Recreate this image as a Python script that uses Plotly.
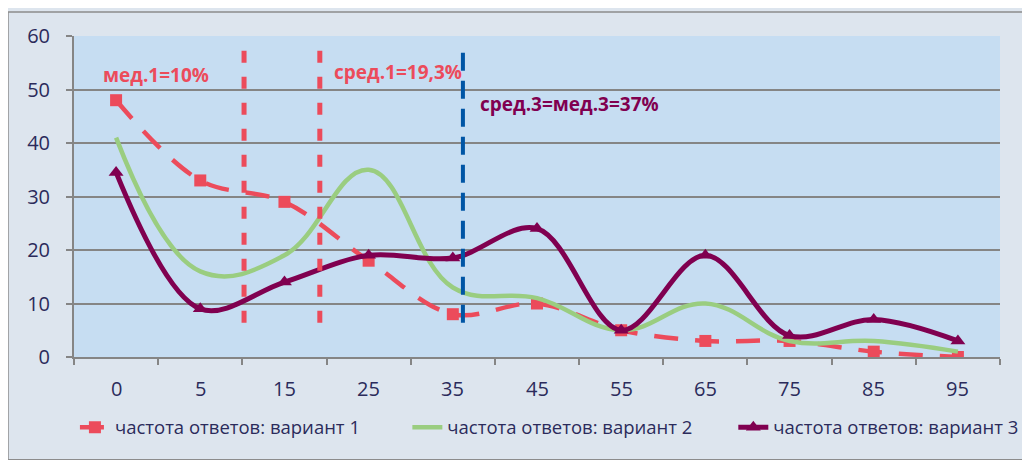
import plotly.graph_objects as go

# answer groups on the x axis (category axis)
categories = ["0", "5", "15", "25", "35", "45", "55", "65", "75", "85", "95"]

# frequency of answers, %
variant_1 = [48, 33, 29, 18, 8, 10, 5, 3, 3, 1, 0]
variant_2 = [41, 16, 19, 35, 13, 11, 5, 10, 3, 3, 1]
variant_3 = [34.5, 9, 14, 19, 18.5, 24, 5, 19, 4, 7, 3]

series_names = [
    "частота ответов: вариант 1",
    "частота ответов: вариант 2",
    "частота ответов: вариант 3",
]

# median / mean markers, given as positions on the category axis
stat_positions = [1.52, 2.42, 4.12]
stat_labels = ["мед.1=10%", "сред.1=19,3%", "сред.3=мед.3=37%"]

RED = "#EC4B5B"
GREEN = "#9ACD80"
PURPLE = "#800050"
BLUE = "#0055A5"
TEXT = "#2B2B5B"
GRID = "#858585"

fig = go.Figure()

fig.add_trace(go.Scatter(
    x=categories, y=variant_1, name=series_names[0],
    mode="lines+markers",
    line=dict(color=RED, width=4.5, dash="24px,17px", shape="spline", smoothing=1.0),
    marker=dict(symbol="square", size=12, color=RED),
    legend="legend",
))
fig.add_trace(go.Scatter(
    x=categories, y=variant_2, name=series_names[1],
    mode="lines",
    line=dict(color=GREEN, width=4.5, shape="spline", smoothing=1.15),
    legend="legend2",
))
fig.add_trace(go.Scatter(
    x=categories, y=variant_3, name=series_names[2],
    mode="lines+markers",
    line=dict(color=PURPLE, width=5, shape="spline", smoothing=1.0),
    marker=dict(symbol="triangle-up", size=13, color=PURPLE),
    legend="legend3",
))

# vertical dashed lines for the median / mean
line_styles = [
    dict(color=RED, width=5, dash="12px,14px"),
    dict(color=RED, width=5, dash="12px,14px"),
    dict(color=BLUE, width=4, dash="18px,10px"),
]
for xpos, style in zip(stat_positions, line_styles):
    fig.add_shape(type="line", xref="x", yref="y",
                  x0=xpos, x1=xpos, y0=6.4, y1=58.7, line=style, layer="above")

# labels for the lines
label_spots = [(-0.18, 52.7, RED), (2.56, 53.2, RED), (4.30, 47.3, PURPLE)]
for text, (ax, ay, col) in zip(stat_labels, label_spots):
    fig.add_annotation(x=ax, y=ay, xref="x", yref="y", text=f"<b>{text}</b>",
                       showarrow=False, xanchor="left", yanchor="middle",
                       font=dict(size=19, color=col, family="Open Sans"))

# x tick labels sit a bit lower than plotly puts them, so draw them as text
# (numeric category index: plotly would read "5" as position 5)
for i, cat in enumerate(categories):
    fig.add_annotation(x=i, y=0, xref="x", yref="y", text=cat,
                       showarrow=False, xanchor="center", yanchor="middle",
                       yshift=-31, font=dict(size=20, color=TEXT, family="Open Sans"))

# outer frame of the chart
fig.add_shape(type="rect", xref="paper", yref="paper",
              x0=-0.0713, x1=1.04, y0=-0.32, y1=1.0748,
              line=dict(color="#8C8C8C", width=1.5), fillcolor="rgba(0,0,0,0)",
              layer="below")

fig.update_xaxes(
    type="category",
    showgrid=False,
    showline=True, linecolor=GRID, linewidth=2,
    ticks="outside", tickson="boundaries", ticklen=6, tickcolor=GRID, tickwidth=1.5,
    showticklabels=False,
    range=[-0.5, 10.5],
    automargin=False,
)
fig.update_yaxes(
    range=[0, 60], dtick=10,
    showgrid=True, gridcolor=GRID, gridwidth=2,
    showline=True, linecolor=GRID, linewidth=2,
    ticks="outside", ticklen=6, tickcolor=GRID, tickwidth=1.5,
    tickfont=dict(size=20, color=TEXT, family="Open Sans"),
    ticklabelstandoff=12,
    zeroline=False,
    automargin=False,
)

legend_style = dict(
    orientation="h", xanchor="left", y=-0.22, yanchor="middle",
    font=dict(size=18.5, color=TEXT, family="Open Sans"), bgcolor="rgba(0,0,0,0)",
)
# page has an 8px body margin, so the figure is drawn 8px smaller
fig.update_layout(
    width=1022, height=452,
    margin=dict(l=66, r=30, t=28, b=103, autoexpand=False),
    plot_bgcolor="#C6DDF2",
    paper_bgcolor="#DDE5EE",
    font=dict(family="Open Sans", color=TEXT),
    showlegend=True,
    legend=dict(x=0.001, **legend_style),
    legend2=dict(x=0.36, **legend_style),
    legend3=dict(x=0.712, **legend_style),
)

fig.write_html("out.html")
